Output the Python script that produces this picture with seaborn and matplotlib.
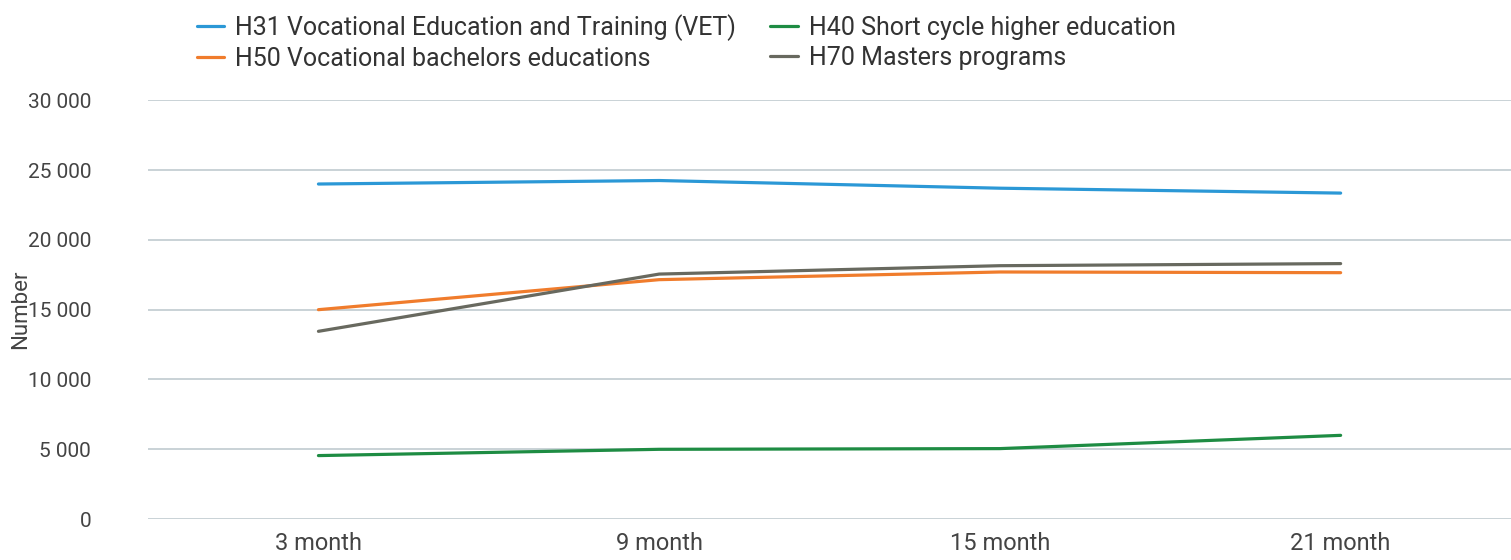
import pandas as pd
import matplotlib.pyplot as plt
import seaborn as sns
from matplotlib.ticker import FuncFormatter

months = ['3 month', '9 month', '15 month', '21 month']
series_names = [
    'H31 Vocational Education and Training (VET)',
    'H50 Vocational bachelors educations',
    'H40 Short cycle higher education',
    'H70 Masters programs',
]
vet = [24000, 24250, 23700, 23350]
bachelors = [15000, 17150, 17700, 17650]
short_cycle = [4550, 5000, 5050, 6000]
masters = [13450, 17550, 18150, 18300]
colors = ['#2b98d6', '#f07c2c', '#1e8c43', '#68695f']


def main():
    sns.set_style('white')
    plt.rcParams['font.family'] = ['Roboto', 'DejaVu Sans']

    df = pd.DataFrame({
        'month': months * 4,
        'value': vet + bachelors + short_cycle + masters,
        'series': [s for s in series_names for _ in months],
    })
    df['x'] = df['month'].map({m: i for i, m in enumerate(months)})

    fig = plt.figure(figsize=(15.11, 5.6), dpi=100)
    ax = fig.add_axes([0.098, 0.073, 0.902, 0.748])

    sns.lineplot(data=df, x='x', y='value', hue='series', hue_order=series_names,
                 palette=colors, linewidth=2.3, sort=False, ax=ax)

    ax.set_xlim(-0.5, 3.5)
    ax.set_ylim(0, 30000)
    ax.set_yticks(range(0, 30001, 5000))
    ax.yaxis.set_major_formatter(FuncFormatter(lambda v, _: f'{int(v):,}'.replace(',', ' ')))
    ax.set_xticks(range(len(months)))
    ax.set_xticklabels(months)
    ax.grid(axis='y', color='#c9d2d6', linewidth=1.4)
    ax.set_axisbelow(True)
    for s in ax.spines.values():
        s.set_visible(False)
    ax.tick_params(axis='both', length=0, colors='#444444')
    ax.tick_params(axis='y', pad=41, labelsize=15)
    ax.tick_params(axis='x', pad=9, labelsize=17)
    ax.set_xlabel('')
    ax.set_ylabel('Number', fontsize=16, color='#444444')
    ax.yaxis.set_label_coords(-0.0858, 0.5)

    handles, labels = ax.get_legend_handles_labels()
    ax.legend(handles, labels, ncol=2, loc='upper left', bbox_to_anchor=(0.032, 1.218),
              frameon=False, fontsize=18, handlelength=1.1, handletextpad=0.45,
              columnspacing=1.35, labelspacing=0.25, labelcolor='#333333',
              borderaxespad=0, borderpad=0.2)

    fig.savefig('out.png', dpi=100)
    plt.close(fig)


if __name__ == '__main__':
    main()
